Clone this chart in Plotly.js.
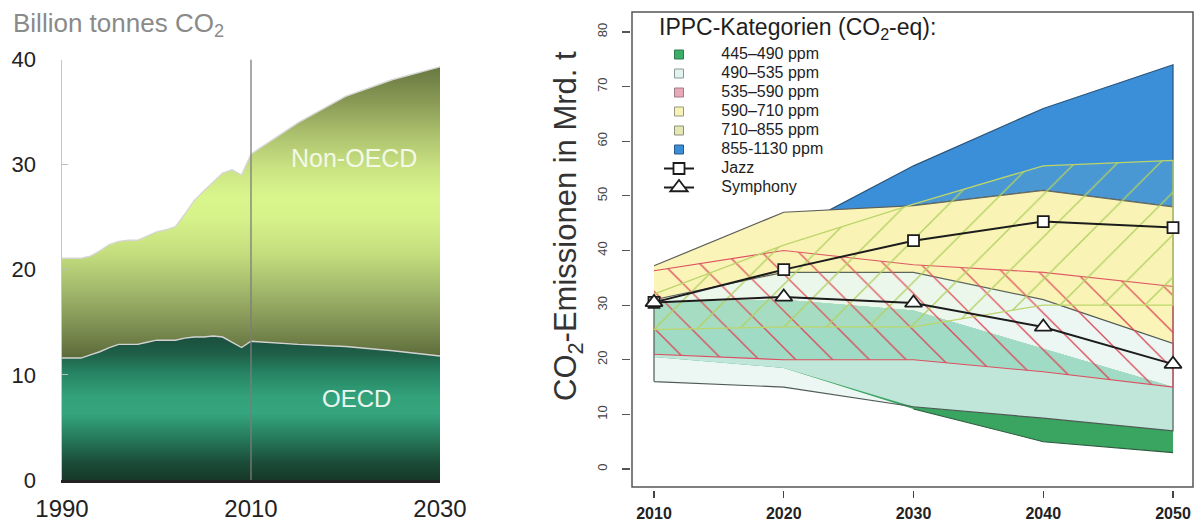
<!DOCTYPE html>
<html>
<head>
<meta charset="utf-8">
<script src="https://cdn.plot.ly/plotly-3.0.1.min.js"></script>
<style>
  html, body { margin: 0; padding: 0; background: #ffffff; }
  #chart { width: 1195px; height: 525px; }
</style>
</head>
<body>
<div id="chart"></div>
<script>
// ---- Left panel: energy-related CO2 emissions, billion tonnes ----
const YEARS = [1990, 1991, 1992, 1993, 1994, 1995, 1996, 1997, 1998, 1999, 2000,
               2001, 2002, 2003, 2004, 2005, 2006, 2007, 2008, 2009, 2010,
               2015, 2020, 2025, 2030];
const OECD = [11.6, 11.6, 11.6, 11.9, 12.2, 12.6, 12.9, 12.9, 12.9, 13.1, 13.3,
              13.3, 13.3, 13.5, 13.6, 13.6, 13.7, 13.6, 13.1, 12.6, 13.2,
              12.9, 12.7, 12.3, 11.8];
const NON_OECD = [9.5, 9.5, 9.5, 9.4, 9.6, 9.8, 9.8, 9.9, 9.9, 10.1, 10.3,
                  10.5, 10.8, 11.8, 13.0, 13.9, 14.7, 15.6, 16.4, 16.4, 17.8,
                  21.1, 23.8, 25.8, 27.5];
const BASE_YEAR = 2010;
const LEFT_X_TICKS = [1990, 2010, 2030];
const LEFT_Y_TICKS = [0, 10, 20, 30, 40];

// ---- Right panel: scenario emissions vs. IPCC category corridors, Mrd. t ----
const SC_YEARS = [2010, 2020, 2030, 2040, 2050];
const CAT_445_490_LO = [20.5, 18.5, 11.0, 5.0, 3.0];
const CAT_445_490_HI = [30.5, 31.0, 29.0, 22.0, 15.0];
const CAT_490_535_LO = [16.0, 15.0, 11.4, 9.3, 7.0];
const CAT_490_535_HI = [31.0, 36.0, 36.0, 31.0, 23.0];
const CAT_535_590_LO = [21.0, 20.0, 20.0, 17.8, 15.0];
const CAT_535_590_HI = [36.3, 40.0, 37.4, 36.0, 33.4];
const CAT_590_710_LO = [24.0, 26.0, 27.0, 26.0, 20.0];
const CAT_590_710_HI = [37.2, 47.0, 48.2, 51.0, 48.0];
const CAT_710_855_LO = [25.5, 26.0, 26.0, 30.0, 30.0];
const CAT_710_855_HI = [32.0, 41.0, 48.5, 55.5, 56.5];
const BLUE_YEARS = [2020, 2030, 2040, 2050];
const CAT_855_1130_LO = [42.0, 48.2, 51.0, 48.0];
const CAT_855_1130_HI = [43.0, 55.5, 66.0, 74.0];
const JAZZ = [30.5, 36.5, 41.8, 45.3, 44.2];
const SYMPHONY = [30.5, 31.5, 30.4, 26.0, 19.2];
const RIGHT_Y_TICKS = [0, 10, 20, 30, 40, 50, 60, 70, 80];
const CATEGORY_NAMES = ['445–490 ppm', '490–535 ppm', '535–590 ppm',
                        '590–710 ppm', '710–855 ppm', '855-1130 ppm'];

const FONT = 'Liberation Sans, Arial, Helvetica, sans-serif';
// legend labels sit a little further from their keys than the default gap
const KEY_GAP = '\u00a0\u00a0\u00a0\u00a0\u00a0';

// closed polygon running along the lower edge and back along the upper edge
function band(years, lo, hi) {
  return {
    x: years.concat(years.slice().reverse()),
    y: lo.concat(hi.slice().reverse())
  };
}
// pointwise overlap of two corridors
function overlap(aLo, aHi, bLo, bHi) {
  return {
    lo: aLo.map((v, i) => Math.max(v, bLo[i])),
    hi: aHi.map((v, i) => Math.min(v, bHi[i]))
  };
}
function polyTrace(years, lo, hi, opts) {
  const p = band(years, lo, hi);
  return Object.assign({
    type: 'scatter', mode: 'lines', x: p.x, y: p.y,
    xaxis: 'x2', yaxis: 'y2', fill: 'toself',
    showlegend: false, hoverinfo: 'skip'
  }, opts);
}
function legendLabel(name) {
  return '<span style="font-size:16px">' + KEY_GAP + name + '</span>';
}
function legendKey(name, fill, border) {
  return {
    type: 'scatter', mode: 'markers', x: [null], y: [null],
    xaxis: 'x2', yaxis: 'y2', hoverinfo: 'skip',
    name: legendLabel(name),
    marker: { symbol: 'square', size: 9, color: fill, line: { color: border, width: 1 } }
  };
}

const traces = [];

// left panel stacked areas with vertical colour gradients
traces.push({
  type: 'scatter', mode: 'lines', x: YEARS, y: OECD, stackgroup: 'em',
  xaxis: 'x', yaxis: 'y', showlegend: false, hoverinfo: 'skip',
  line: { color: '#d2d2d2', width: 1.4, shape: 'linear' },
  fillgradient: {
    type: 'vertical', start: 0, stop: 13.2,
    colorscale: [[0, '#163829'], [0.12, '#1b4b38'], [0.3, '#267a5c'],
                 [0.48, '#34a57e'], [0.6, '#33a27b'], [0.78, '#268262'],
                 [0.9, '#1f6149'], [1, '#1b5240']]
  }
});
traces.push({
  type: 'scatter', mode: 'lines', x: YEARS, y: NON_OECD, stackgroup: 'em',
  xaxis: 'x', yaxis: 'y', showlegend: false, hoverinfo: 'skip',
  line: { color: '#d6d6d6', width: 1.4, shape: 'linear' },
  fillgradient: {
    type: 'vertical', start: 11.5, stop: 39.5,
    colorscale: [[0, '#5a6938'], [0.13, '#849657'], [0.25, '#a6bd6e'],
                 [0.36, '#c4de7e'], [0.48, '#d6f28a'], [0.55, '#d9f68c'],
                 [0.64, '#cce584'], [0.76, '#adc26e'], [0.87, '#8b9b56'],
                 [1, '#667640']]
  }
});

// right panel corridors
traces.push(polyTrace(BLUE_YEARS, CAT_855_1130_LO, CAT_855_1130_HI, {
  fillcolor: '#3b8fd8', line: { color: '#2c5478', width: 1.2 }
}));
traces.push(polyTrace(SC_YEARS, CAT_590_710_LO, CAT_590_710_HI, {
  fillcolor: '#faf4b8', line: { color: '#5e5e58', width: 1.2 }
}));
traces.push(polyTrace(SC_YEARS, CAT_490_535_LO, CAT_490_535_HI, {
  fillcolor: '#ecf7f3', line: { width: 0 }
}));
traces.push(polyTrace(SC_YEARS, CAT_445_490_LO, CAT_445_490_HI, {
  fillcolor: '#3aa461', line: { width: 0 }
}));
const gl = overlap(CAT_445_490_LO, CAT_445_490_HI, CAT_490_535_LO, CAT_490_535_HI);
traces.push(polyTrace(SC_YEARS, gl.lo, gl.hi, {
  fillcolor: '#bfe6d9', line: { width: 0 }
}));
const glr = overlap(gl.lo, gl.hi, CAT_535_590_LO, CAT_535_590_HI);
traces.push(polyTrace(SC_YEARS, glr.lo, glr.hi, {
  fillcolor: '#a0dbc6', line: { width: 0 }
}));
// lower edge of the 445–490 corridor
traces.push({
  type: 'scatter', mode: 'lines', x: SC_YEARS, y: CAT_445_490_LO.map((v, i) =>
    v <= CAT_490_535_LO[i] ? v : null),
  xaxis: 'x2', yaxis: 'y2', showlegend: false, hoverinfo: 'skip', connectgaps: false,
  line: { color: '#2f5a40', width: 1.1 }
});
// outline of the 490–535 corridor on top of the green fills
(function () {
  const p = band(SC_YEARS, CAT_490_535_LO, CAT_490_535_HI);
  traces.push({
    type: 'scatter', mode: 'lines', x: p.x.concat([p.x[0]]), y: p.y.concat([p.y[0]]),
    xaxis: 'x2', yaxis: 'y2', showlegend: false, hoverinfo: 'skip',
    line: { color: '#4f5a55', width: 1.2 }
  });
})();
traces.push(polyTrace(SC_YEARS, CAT_535_590_LO, CAT_535_590_HI, {
  fillcolor: 'rgba(0,0,0,0)', line: { color: '#dc4f60', width: 1.1 },
  fillpattern: { shape: '\\', size: 26, solidity: 0.05,
                 fgcolor: '#db4656', bgcolor: 'rgba(0,0,0,0)' }
}));
traces.push(polyTrace(SC_YEARS, CAT_710_855_LO, CAT_710_855_HI, {
  fillcolor: 'rgba(0,0,0,0)', line: { color: '#bcd56a', width: 1.3 },
  fillpattern: { shape: '/', size: 30, solidity: 0.045,
                 fgcolor: '#b0d060', bgcolor: 'rgba(236,240,150,0.08)' }
}));

// legend keys
traces.push(legendKey(CATEGORY_NAMES[0], '#3dae68', '#2d7a4a'));
traces.push(legendKey(CATEGORY_NAMES[1], '#e2f2ef', '#8a9a96'));
traces.push(legendKey(CATEGORY_NAMES[2], '#e8a9b8', '#a07a86'));
traces.push(legendKey(CATEGORY_NAMES[3], '#f7f2b5', '#9a9680'));
traces.push(legendKey(CATEGORY_NAMES[4], '#e4e6b4', '#8e9278'));
traces.push(legendKey(CATEGORY_NAMES[5], '#3a8ed8', '#2a5a85'));

// scenario paths
traces.push({
  type: 'scatter', mode: 'lines+markers', x: SC_YEARS, y: JAZZ,
  xaxis: 'x2', yaxis: 'y2', hoverinfo: 'skip',
  name: legendLabel('Jazz'),
  line: { color: '#1c1c1c', width: 2 },
  marker: { symbol: 'square', size: 11, color: '#ffffff', line: { color: '#1c1c1c', width: 1.8 } }
});
traces.push({
  type: 'scatter', mode: 'lines+markers', x: SC_YEARS, y: SYMPHONY,
  xaxis: 'x2', yaxis: 'y2', hoverinfo: 'skip',
  name: legendLabel('Symphony'),
  line: { color: '#1c1c1c', width: 2 },
  marker: { symbol: 'triangle-up', size: 15, color: '#ffffff', line: { color: '#1c1c1c', width: 1.8 } }
});

const W = 1195, H = 525;
const px = v => v / W;
const py = v => 1 - v / H;

const layout = {
  width: W, height: H,
  margin: { l: 0, r: 0, t: 0, b: 0 },
  paper_bgcolor: '#ffffff', plot_bgcolor: 'rgba(0,0,0,0)',
  font: { family: FONT, color: '#222' },
  showlegend: true,
  xaxis: {
    domain: [px(62), px(440)], range: [1990, 2030], anchor: 'y',
    tickvals: LEFT_X_TICKS, ticks: '', showgrid: false, zeroline: false,
    showline: true, linecolor: '#222', linewidth: 2.5,
    tickfont: { family: FONT, size: 24, color: '#222' }, ticklabelstandoff: 6
  },
  yaxis: {
    domain: [py(480), py(59.5)], range: [0, 40], anchor: 'x',
    tickvals: LEFT_Y_TICKS, ticks: 'inside', ticklen: 6, tickwidth: 1, tickcolor: '#bdbdbd',
    showgrid: false, zeroline: false, showline: true, linecolor: '#c6c6c6', linewidth: 1.5,
    tickfont: { family: FONT, size: 22, color: '#222' }, ticklabelstandoff: 20
  },
  xaxis2: {
    domain: [px(632), px(1193)], range: [2008.304, 2051.54], anchor: 'free', position: py(490),
    tickvals: SC_YEARS, ticks: 'outside', ticklen: 7, tickwidth: 1.2, tickcolor: '#444',
    showgrid: false, zeroline: false, showline: false, ticklabelstandoff: 2,
    tickfont: { family: FONT, size: 16, color: '#222', weight: 'bold' }
  },
  yaxis2: {
    domain: [py(487), py(12)], range: [-3.295, 83.66], anchor: 'free', position: px(630),
    tickvals: RIGHT_Y_TICKS, ticks: 'outside', ticklen: 8, tickwidth: 1.2, tickcolor: '#555',
    tickangle: -90, showgrid: false, zeroline: false, showline: false,
    tickfont: { family: FONT, size: 13, color: '#444' }, ticklabelstandoff: 10
  },
  legend: {
    x: px(659), y: py(40), xanchor: 'left', yanchor: 'top', traceorder: 'normal',
    bgcolor: 'rgba(0,0,0,0)', borderwidth: 0,
    font: { family: FONT, size: 12, color: '#1e1e1e' },
    tracegroupgap: 0, itemclick: false, itemdoubleclick: false
  },
  shapes: [
    { type: 'line', xref: 'x', yref: 'y', x0: BASE_YEAR, x1: BASE_YEAR, y0: 0, y1: 40,
      line: { color: '#7c7c7c', width: 1.3 }, layer: 'above' },
    { type: 'rect', xref: 'x2 domain', yref: 'y2 domain', x0: 0, x1: 1, y0: 0, y1: 1,
      line: { color: '#555555', width: 1.5 }, layer: 'above' }
  ],
  annotations: [
    { text: 'Billion tonnes CO<sub>2</sub>', xref: 'paper', yref: 'paper',
      x: px(11), y: py(6), xanchor: 'left', yanchor: 'top', showarrow: false,
      font: { family: FONT, size: 26, color: '#8a8a8a' } },
    { text: 'Non-OECD', xref: 'x', yref: 'y', x: 2020.9, y: 30.6,
      xanchor: 'center', yanchor: 'middle', showarrow: false,
      font: { family: FONT, size: 25, color: '#f3f9e6' } },
    { text: 'OECD', xref: 'x', yref: 'y', x: 2021.2, y: 7.8,
      xanchor: 'center', yanchor: 'middle', showarrow: false,
      font: { family: FONT, size: 24, color: '#eaf6ef' } },
    { text: 'CO<sub>2</sub>-Emissionen in Mrd. t', xref: 'paper', yref: 'paper',
      x: px(568), y: py(226), xanchor: 'center', yanchor: 'middle', textangle: -90,
      showarrow: false, font: { family: FONT, size: 31, color: '#333' } },
    { text: 'IPPC-Kategorien (CO<sub>2</sub>-eq):', xref: 'paper', yref: 'paper',
      x: px(657), y: py(12), xanchor: 'left', yanchor: 'top', showarrow: false,
      font: { family: FONT, size: 23, color: '#1e1e1e' } }
  ]
};

Plotly.newPlot('chart', traces, layout, { displayModeBar: false, staticPlot: true });
</script>
</body>
</html>
